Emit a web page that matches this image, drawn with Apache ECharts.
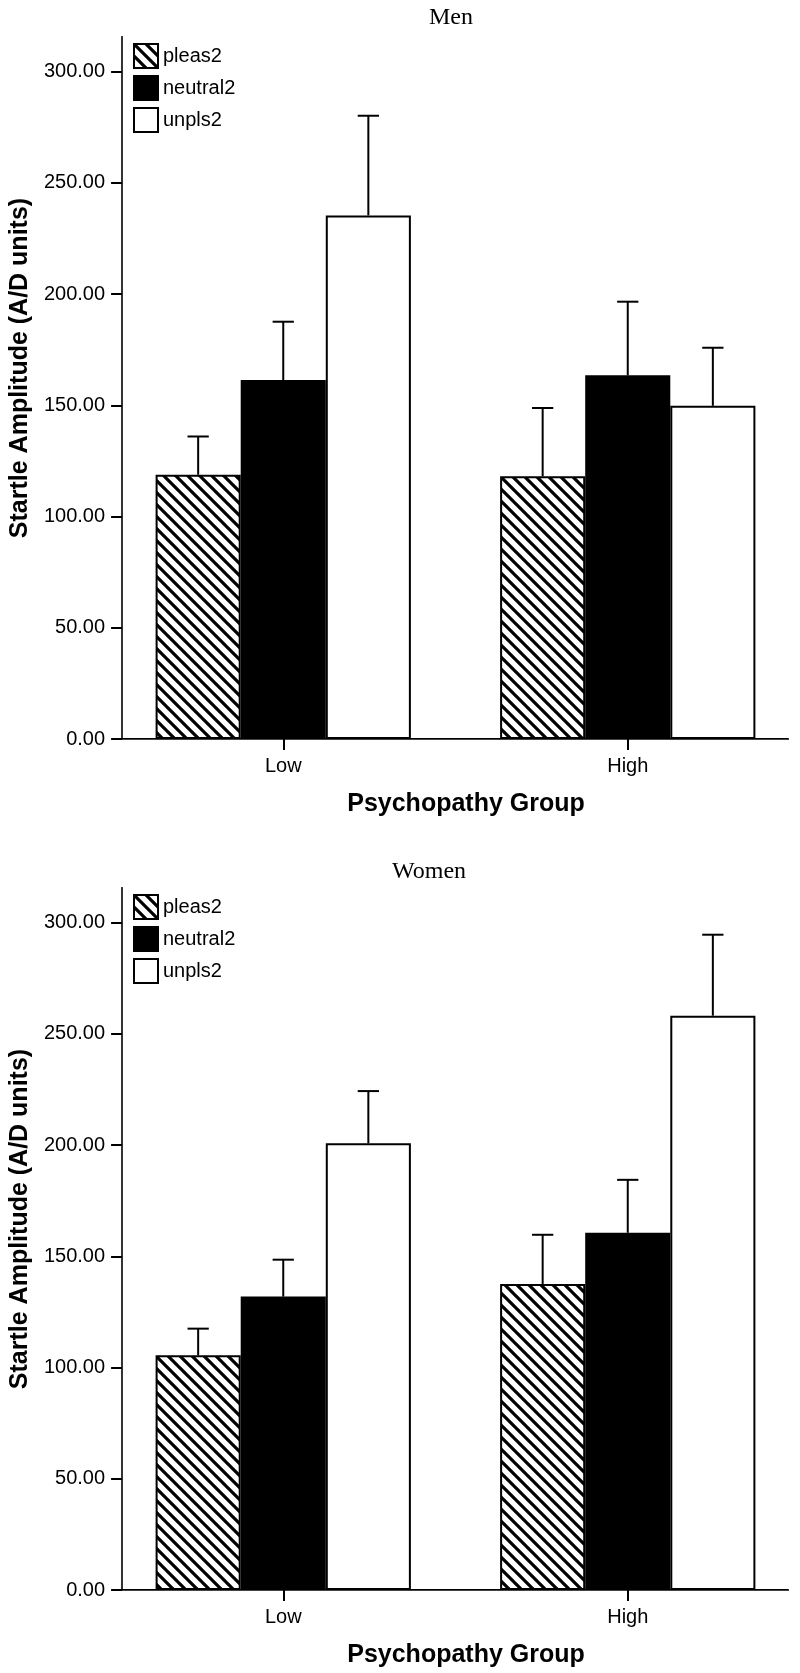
<!DOCTYPE html>
<html><head><meta charset="utf-8">
<script src="https://cdn.jsdelivr.net/npm/echarts@6/dist/echarts.min.js"></script>
<style>html,body{margin:0;padding:0;background:#fff}#c{width:800px;height:1673px}</style>
</head><body><div id="c"></div>
<script>
// ---- data ----
const groups = ['Low', 'High'];
const conditions = ['pleas2', 'neutral2', 'unpls2'];
const yTicks = [0, 50, 100, 150, 200, 250, 300];
const yMax = 315.6;

const menPleas = [118.8, 118.1];
const menNeutral = [161.4, 163.5];
const menUnpls = [235.4, 149.8];
const menPleasUpper = [136.0, 148.8];
const menNeutralUpper = [187.6, 196.6];
const menUnplsUpper = [280.2, 175.9];

const womenPleas = [105.5, 137.6];
const womenNeutral = [131.9, 160.6];
const womenUnpls = [200.8, 258.2];
const womenPleasUpper = [117.5, 159.7];
const womenNeutralUpper = [148.5, 184.4];
const womenUnplsUpper = [224.3, 294.6];

// ---- style ----
const SANS = 'Liberation Sans, Arial, Helvetica, sans-serif';
const SERIF = 'Liberation Serif, Times New Roman, serif';
const BAR_RATIO = 0.247;
const PLOT_H = 702;

function hatch() {
  const p = 12;
  const cv = document.createElement('canvas');
  cv.width = p; cv.height = p;
  const g = cv.getContext('2d');
  g.fillStyle = '#fff'; g.fillRect(0, 0, p, p);
  g.strokeStyle = '#000'; g.lineWidth = 3.2;
  g.beginPath();
  [-p, 0, p].forEach(k => { g.moveTo(k - p, -p); g.lineTo(k + 2 * p, 2 * p); });
  g.stroke();
  return { image: cv, repeat: 'repeat' };
}
const fills = [hatch(), '#000', '#fff'];

const panels = [
  { title: 'Men', titleLeft: 429, titleTop: 6, top: 37,
    means: [menPleas, menNeutral, menUnpls], uppers: [menPleasUpper, menNeutralUpper, menUnplsUpper] },
  { title: 'Women', titleLeft: 392, titleTop: 860, top: 888,
    means: [womenPleas, womenNeutral, womenUnpls], uppers: [womenPleasUpper, womenNeutralUpper, womenUnplsUpper] }
];

function errRender(si) {
  return function (params, api) {
    const cat = api.value(0);
    const base = api.coord([cat, api.value(1)]);
    const top = api.coord([cat, api.value(2)]);
    const band = api.size([1, 0])[0];
    const bw = band * BAR_RATIO;
    const x = base[0] + (si - 1) * bw;
    const cap = bw * 0.25;
    return { type: 'group', children: [
      { type: 'line', shape: { x1: x, y1: base[1], x2: x, y2: top[1] }, style: { stroke: '#000', lineWidth: 2 } },
      { type: 'line', shape: { x1: x - cap / 2, y1: top[1], x2: x + cap / 2, y2: top[1] }, style: { stroke: '#000', lineWidth: 2 } }
    ] };
  };
}

const option = { animation: false, backgroundColor: '#fff',
  title: [], legend: [], grid: [], xAxis: [], yAxis: [], series: [] };

panels.forEach((p, pi) => {
  const gA = pi * 2, gB = pi * 2 + 1;
  option.title.push({ text: p.title, left: p.titleLeft, top: p.titleTop, padding: 0,
    textStyle: { fontFamily: SERIF, fontSize: 24, fontWeight: 'normal', color: '#000' } });
  option.legend.push({ orient: 'vertical', left: 133, top: p.top + 6, itemWidth: 24, itemHeight: 24, itemGap: 6,
    padding: 0, selectedMode: false, icon: 'rect', data: conditions,
    textStyle: { fontFamily: SANS, fontSize: 20, color: '#000' } });
  option.grid.push({ left: 111, right: 0, top: p.top, height: PLOT_H });
  option.grid.push({ left: 122, right: 12, top: p.top, height: PLOT_H });
  // bar grid axes
  option.xAxis.push({ type: 'category', gridIndex: gA, data: groups,
    axisLine: { show: false },
    axisTick: { show: true, alignWithLabel: true, length: 11, lineStyle: { color: '#000', width: 2 } },
    axisLabel: { margin: 17, fontFamily: SANS, fontSize: 20, color: '#000' },
    name: 'Psychopathy Group', nameLocation: 'middle', nameGap: 53,
    nameTextStyle: { fontFamily: SANS, fontSize: 25, fontWeight: 'bold', color: '#000', padding: [0, 0, 0, 21] } });
  option.yAxis.push({ type: 'value', gridIndex: gA, min: 0, max: yMax, show: false, splitLine: { show: false } });
  // frame axes
  option.xAxis.push({ type: 'value', gridIndex: gB, min: 0, max: 1, position: 'bottom',
    axisLine: { show: true, lineStyle: { color: '#000', width: 2 } }, axisTick: { show: false },
    axisLabel: { show: false }, splitLine: { show: false } });
  option.xAxis.push({ type: 'value', gridIndex: gB, min: 0, max: 1, position: 'top',
    axisLine: { show: true, lineStyle: { color: '#444', width: 1.2 } }, axisTick: { show: false },
    axisLabel: { show: false }, splitLine: { show: false } });
  option.yAxis.push({ type: 'value', gridIndex: gB, min: 0, max: yMax, position: 'left',
    axisLine: { show: true, lineStyle: { color: '#000', width: 2 } },
    axisTick: { show: true, customValues: yTicks, length: 11, lineStyle: { color: '#000', width: 2 } },
    axisLabel: { customValues: yTicks, margin: 17, fontFamily: SANS, fontSize: 20, color: '#000',
      formatter: v => Number(v).toFixed(2) },
    splitLine: { show: false },
    name: 'Startle Amplitude (A/D units)', nameLocation: 'middle', nameGap: 87,
    nameTextStyle: { fontFamily: SANS, fontSize: 25, fontWeight: 'bold', color: '#000', padding: [0, 0, 0, 40] } });
  option.yAxis.push({ type: 'value', gridIndex: gB, min: 0, max: yMax, position: 'right',
    axisLine: { show: true, lineStyle: { color: '#444', width: 1.5 } }, axisTick: { show: false },
    axisLabel: { show: false }, splitLine: { show: false } });
});

// per panel xAxis [cat, frameBottom, frameTop], yAxis [hidden, frameLeft, frameRight]
panels.forEach((p, pi) => {
  const xi = pi * 3, yi = pi * 3;
  conditions.forEach((name, si) => {
    option.series.push({ type: 'bar', name: name, xAxisIndex: xi, yAxisIndex: yi,
      barWidth: (BAR_RATIO * 100) + '%', barGap: '0%',
      itemStyle: { color: fills[si], borderColor: '#000', borderWidth: 2 },
      data: p.means[si] });
  });
  conditions.forEach((name, si) => {
    option.series.push({ type: 'custom', xAxisIndex: xi, yAxisIndex: yi, z: 3,
      renderItem: errRender(si), encode: { x: 0, y: [1, 2] },
      data: groups.map((g, gi) => [gi, p.means[si][gi], p.uppers[si][gi]]) });
  });
});

const chart = echarts.init(document.getElementById('c'), null, { renderer: 'canvas' });
chart.setOption(option);
</script></body></html>
